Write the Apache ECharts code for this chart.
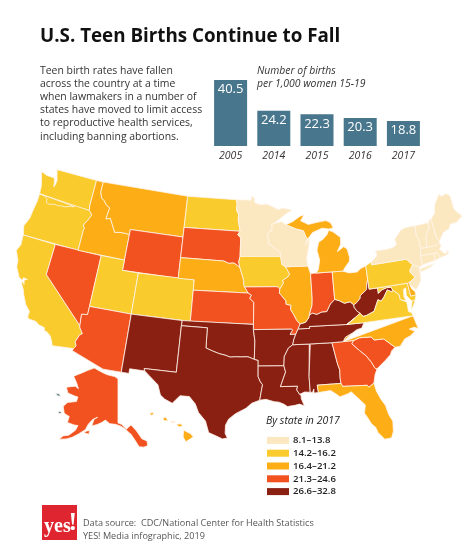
<!DOCTYPE html>
<html>
<head>
<meta charset="utf-8">
<style>html,body{margin:0;padding:0;background:#fff}#main{width:474px;height:557px}</style>
<script src="https://cdn.jsdelivr.net/npm/echarts@6/dist/echarts.min.js"></script>
</head>
<body>
<div id="main"></div>
<script>
// national rate
var years = ['2005', '2014', '2015', '2016', '2017'];
var nationalRates = [40.5, 24.2, 22.3, 20.3, 18.8];

// 2017 rate by state, read as classes from the map
var lightStates = ['Massachusetts', 'New Hampshire', 'Connecticut', 'Vermont', 'New Jersey', 'Rhode Island', 'Minnesota', 'New York', 'Wisconsin', 'Maine'];
var lightRates = [8.1, 9.0, 9.4, 9.4, 11.0, 10.7, 11.5, 12.0, 12.6, 12.6];
var yellowStates = ['Washington', 'Oregon', 'California', 'Utah', 'Colorado', 'North Dakota', 'Iowa', 'Pennsylvania', 'Virginia', 'Maryland'];
var yellowRates = [14.4, 14.5, 15.7, 15.5, 15.7, 15.9, 15.6, 14.5, 14.5, 15.0];
var orangeStates = ['Idaho', 'Montana', 'Nebraska', 'Michigan', 'Illinois', 'Ohio', 'North Carolina', 'Florida', 'Hawaii', 'Delaware'];
var orangeRates = [17.5, 17.7, 17.7, 16.6, 16.7, 20.0, 20.5, 17.9, 17.4, 16.7];
var redStates = ['Nevada', 'Arizona', 'Wyoming', 'South Dakota', 'Kansas', 'Missouri', 'Indiana', 'Georgia', 'South Carolina', 'Alaska'];
var redRates = [22.0, 21.9, 22.0, 21.7, 22.0, 22.8, 21.9, 22.5, 23.3, 21.9];
var darkStates = ['New Mexico', 'Texas', 'Oklahoma', 'Arkansas', 'Louisiana', 'Mississippi', 'Alabama', 'Tennessee', 'Kentucky', 'West Virginia'];
var darkRates = [27.9, 28.7, 30.0, 32.8, 29.9, 30.0, 27.0, 27.0, 28.0, 27.0];

var classLabels = ['8.1–13.8', '14.2–16.2', '16.4–21.2', '21.3–24.6', '26.6–32.8'];
var classMin = [8.1, 14.2, 16.4, 21.3, 26.6];
var classMax = [13.8, 16.2, 21.2, 24.6, 32.8];
var classColors = ['#FCE8C0', '#F9CB2C', '#FDAE17', '#F1521F', '#8A2012'];

function r(a) { return a.slice().reverse(); }

// shared borders, lon/lat
var colorado = [[-114.05,36.2],[-114.74,36.1],[-114.63,35],[-114.57,34.8],[-114.14,34.3],[-114.43,34.1],[-114.72,33.4],[-114.52,33.03],[-114.72,32.72]];
var snake = [[-117.03,42],[-117.03,44],[-116.95,44.2],[-117.2,44.45],[-117.05,44.75],[-116.85,44.95],[-116.47,45.6],[-116.67,45.8],[-116.92,45.99]];
var columbia = [[-116.92,45.99],[-118.98,46],[-119.3,45.93],[-119.6,45.92],[-120.2,45.73],[-120.65,45.74],[-121.2,45.65],[-121.7,45.7],[-122.3,45.55],[-122.76,45.65],[-122.8,46],[-123.2,46.15],[-123.43,46.23],[-123.98,46.25]];
var bitterroot = [[-116.05,49],[-116.05,48],[-115.72,47.42],[-115.3,47.25],[-114.95,46.93],[-114.35,46.65],[-114.45,46.1],[-114.5,45.55],[-113.95,45.7],[-113.45,45.05],[-113,44.45],[-112.3,44.55],[-111.5,44.55],[-111.05,44.48]];
var redNorth = [[-97.23,49],[-97.1,48.6],[-97.15,48],[-96.85,47.6],[-96.85,47],[-96.56,45.94]];
var bigSioux = [[-96.56,45.94],[-96.85,45.6],[-96.45,45.3],[-96.45,43.5]];
var sdIa = [[-96.45,43.5],[-96.6,43],[-96.45,42.49]];
var sdNe = [[-104.05,43],[-98.5,43],[-97.9,42.8],[-97.2,42.85],[-96.7,42.6],[-96.45,42.49]];
var neIa = [[-96.45,42.49],[-96.1,41.7],[-95.9,41.2],[-95.85,40.7],[-95.77,40.58]];
var neMo = [[-95.77,40.58],[-95.31,40]];
var ksMo = [[-95.31,40],[-94.9,39.8],[-95.1,39.5],[-94.61,39.11],[-94.62,37]];
var redSouth = [[-100,34.56],[-99.2,34.3],[-98.5,34.1],[-97.7,33.95],[-97.2,33.8],[-96.6,33.85],[-96,33.85],[-95.2,33.88],[-94.48,33.64]];
var okAr = [[-94.62,36.5],[-94.43,35.4],[-94.48,33.64]];
var txLa = [[-94.04,33],[-94.04,31.99],[-93.8,31.5],[-93.55,31.2],[-93.7,30.5],[-93.85,29.7]];
var mnWi = [[-92.05,46.7],[-92.29,46.66],[-92.29,46.07],[-92.8,45.85],[-92.88,45.6],[-92.75,45],[-92.75,44.75],[-91.9,44.3],[-91.25,43.85],[-91.22,43.5]];
var iaEast = [[-91.22,43.5],[-91.1,42.75],[-90.64,42.51]];
var iaIl = [[-90.64,42.51],[-90.15,41.8],[-90.35,41.55],[-91.05,41.2],[-90.95,40.95],[-91.42,40.38]];
var moIl = [[-91.42,40.38],[-91.5,40],[-90.73,39.25],[-90.7,38.9],[-90.12,38.8],[-90.2,38.4],[-89.85,37.9],[-89.5,37.3],[-89.13,36.98]];
var moKy = [[-89.13,36.98],[-89.4,36.5]];
var moTn = [[-89.4,36.5],[-89.7,36]];
var arTn = [[-89.7,36],[-89.95,35.5],[-90.1,35]];
var arMs = [[-90.1,35],[-90.6,34.7],[-91.1,33.9],[-91.17,33]];
var laMs = [[-91.17,33],[-91,32.4],[-91.6,31],[-89.73,31],[-89.85,30.65],[-89.55,30.2]];
var ilKy = [[-89.13,36.98],[-88.5,37.1],[-88.1,37.5],[-88,37.8]];
var ilIn = [[-87.53,41.72],[-87.53,39.35],[-87.6,38.7],[-88,37.8]];
var inKy = [[-88,37.8],[-87.6,37.95],[-87.1,37.8],[-86.5,38],[-85.9,38],[-85.4,38.7],[-84.82,39.1]];
var ohKy = [[-84.82,39.1],[-84.3,38.95],[-83.7,38.65],[-83,38.73],[-82.6,38.4]];
var ohWv = [[-82.6,38.4],[-82.2,38.6],[-81.75,38.95],[-81.7,39.2],[-80.85,39.7],[-80.65,40.4],[-80.52,40.64]];
var kyWv = [[-82.6,38.4],[-82.6,38.17],[-82.3,37.75],[-81.97,37.54]];
var kyVa = [[-81.97,37.54],[-82.7,37.1],[-83.68,36.6]];
var vaWv = [[-81.97,37.54],[-81.68,37.2],[-81.25,37.25],[-80.3,37.55],[-79.65,38.6],[-79.3,38.42],[-78.9,38.75],[-78.35,39.4],[-77.83,39.14],[-77.72,39.32]];
var mdWv = [[-77.72,39.32],[-77.83,39.6],[-78.4,39.62],[-79.05,39.47],[-79.48,39.2],[-79.48,39.72]];
var ncTn = [[-81.68,36.59],[-82,36.1],[-82.6,36],[-83.1,35.75],[-84,35.4],[-84.32,34.99]];
var ncSc = [[-83.11,35],[-82.4,35.2],[-81.05,35.15],[-80.8,34.82],[-79.68,34.8],[-78.55,33.85]];
var gaSc = [[-83.11,35],[-83.35,34.7],[-82.6,34],[-81.9,33.4],[-81.4,32.7],[-81.1,32.1],[-80.9,32.03]];
var alGa = [[-85.6,34.98],[-85.18,32.87],[-85,32.3],[-85.05,31.55],[-85,31]];
var alMs = [[-88.2,35],[-88.1,34.9],[-88.43,31.9],[-88.4,30.35]];
var flGa = [[-85,31],[-84.86,30.7],[-82.2,30.57],[-82.05,30.36],[-81.45,30.7]];
var paNj = [[-75.35,42],[-74.7,41.36],[-75.13,40.95],[-75.2,40.7],[-74.72,40.15],[-75.42,39.8]];
var vtNy = [[-73.35,45],[-73.45,44],[-73.25,43.6],[-73.27,42.75]];
var vtNh = [[-71.5,45.01],[-71.6,44.5],[-72.05,44.1],[-72.3,43.6],[-72.46,42.73]];
var nhMe = [[-71.08,45.3],[-70.98,43.4],[-70.7,43.07]];
var wiMi = [[-90.42,46.57],[-89.1,46.13],[-88.1,45.9],[-87.85,45.35],[-87.6,45.1]];

// state outlines, lon/lat
var stateRings = {
  'Washington': [[[-124.73,48.38],[-123.9,48.16],[-123.1,48.15],[-122.75,48.12],[-122.6,47.8],[-122.45,47.3],[-122.33,47.6],[-122.3,48],[-122.5,48.4],[-122.76,49],[-117.03,49],[-117.04,46.42]].concat(columbia, [[-124.05,46.7],[-124.1,47],[-124.4,47.7]])],
  'Oregon': [[[-123.98,46.25],[-123.95,45.5],[-124.07,44.6],[-124.15,43.7],[-124.55,42.84],[-124.21,42]].concat(snake, r(columbia).slice(0, -1))],
  'California': [[[-124.21,42],[-120,42],[-120,39]].concat(colorado.slice(2), [[-117.12,32.53],[-117.25,32.85],[-117.6,33.4],[-118.1,33.7],[-118.4,33.75],[-118.5,34.03],[-119.2,34.15],[-119.6,34.4],[-120.47,34.45],[-120.65,34.6],[-120.65,35.15],[-121.3,35.7],[-121.9,36.6],[-122.05,36.95],[-122.5,37.5],[-122.5,37.77],[-122.2,37.5],[-122.35,37.9],[-122,38.05],[-122.5,38.1],[-122.55,37.83],[-123,38],[-123.7,38.9],[-123.8,39.5],[-124.41,40.4],[-124.1,41],[-124.2,41.75]])],
  'Nevada': [[[-120,42],[-114.04,42],[-114.04,36.2]].concat(colorado.slice(0, 3), [[-120,39]])],
  'Idaho': [[[-117.03,49]].concat(bitterroot, [[-111.05,42]], snake, [[-117.04,46.42]])],
  'Montana': [[[-116.05,49],[-104.05,49],[-104.05,45],[-111.05,45]].concat(r(bitterroot))],
  'Wyoming': [[[-111.05,45],[-104.05,45],[-104.05,41],[-111.05,41]]],
  'Utah': [[[-114.04,42],[-111.05,42],[-111.05,41],[-109.05,41],[-109.05,37],[-114.04,37]]],
  'Colorado': [[[-109.05,41],[-102.05,41],[-102.05,37],[-109.05,37]]],
  'Arizona': [[[-114.04,37],[-109.05,37],[-109.05,31.33],[-111.07,31.33],[-114.81,32.5]].concat(r(colorado), [[-114.04,36.2]])],
  'New Mexico': [[[-109.05,37],[-103,37],[-103.04,36.5],[-103.06,32],[-106.62,32],[-106.53,31.78],[-108.2,31.78],[-108.2,31.33],[-109.05,31.33]]],
  'North Dakota': [[[-104.05,49]].concat(redNorth, [[-104.05,45.94]])],
  'South Dakota': [[[-104.05,45.94]].concat(bigSioux, sdIa, r(sdNe))],
  'Nebraska': [sdNe.concat(neIa, neMo, [[-102.05,40],[-102.05,41],[-104.05,41]])],
  'Kansas': [[[-102.05,40]].concat(ksMo, [[-102.05,37]])],
  'Oklahoma': [[[-103,37],[-94.62,37]].concat(okAr, r(redSouth), [[-100,36.5],[-103.04,36.5]])],
  'Texas': [[[-103.04,36.5],[-100,36.5]].concat(redSouth, [[-94.04,33.55]], txLa, [[-94.7,29.4],[-95.3,28.9],[-96.4,28.35],[-97.1,27.8],[-97.4,27.2],[-97.4,26.4],[-97.15,25.96],[-97.65,25.85],[-98.3,26.1],[-99.1,26.4],[-99.5,27.5],[-100.3,28.3],[-100.7,29.1],[-101.4,29.77],[-102.4,29.77],[-102.85,29.3],[-103.15,28.98],[-104,29.3],[-104.5,29.65],[-104.9,30.6],[-106,31.4],[-106.53,31.78],[-106.62,32],[-103.06,32]])],
  'Minnesota': [[[-97.23,49],[-95.15,49],[-95.15,49.38],[-94.8,49.3],[-94.6,48.72],[-93.8,48.55],[-92.95,48.62],[-92,48.3],[-91.4,48.07],[-90.8,48.2],[-89.5,48],[-90.5,47.55],[-91.5,47]].concat(mnWi, [[-96.45,43.5]], r(bigSioux).slice(1), r(redNorth).slice(1))],
  'Iowa': [[[-96.45,43.5]].concat(iaEast, iaIl, [[-91.73,40.61]], r(neIa), r(sdIa).slice(0, -1))],
  'Missouri': [[[-95.77,40.58],[-91.73,40.61]].concat(moIl, moKy, moTn, [[-90.37,36],[-90.07,36.4],[-90.15,36.5],[-94.62,36.5]], r(ksMo))],
  'Arkansas': [[[-94.62,36.5],[-90.15,36.5],[-90.07,36.4],[-90.37,36]].concat(arTn, arMs, [[-94.04,33],[-94.04,33.55]], r(okAr))],
  'Louisiana': [[[-94.04,33]].concat(laMs, [[-89.4,30.05],[-89.4,29.8],[-89.2,29.3],[-89.1,29.05],[-89.6,29.25],[-90.1,29.15],[-90.9,29.05],[-91.3,29.3],[-91.8,29.5],[-92.3,29.55],[-93.2,29.78]], r(txLa).slice(0, -1))],
  'Mississippi': [[[-90.1,35]].concat(alMs, [[-89,30.4]], r(laMs), r(arMs).slice(1))],
  'Alabama': [[[-88.2,35]].concat(alGa, [[-87.6,31],[-87.52,30.28],[-88,30.25],[-88,30.65],[-88.15,30.32]], r(alMs).slice(0, -1))],
  'Georgia': [alGa.concat(flGa.slice(1), [[-81.2,31.5]], r(gaSc))],
  'Florida': [flGa.concat([[-81.3,29.9],[-80.95,29.1],[-80.55,28.4],[-80.35,27.5],[-80.03,26.8],[-80.13,25.8],[-80.4,25.2],[-81.1,25.15],[-81.7,25.9],[-81.85,26.4],[-82.25,26.8],[-82.65,27.6],[-82.85,27.9],[-82.65,28.7],[-83.4,29.5],[-84,30.1],[-84.35,29.95],[-85.3,29.7],[-85.4,29.85],[-86.2,30.4],[-87.52,30.28],[-87.6,31]])],
  'South Carolina': [ncSc.concat([[-79,33.55],[-79.2,33.2],[-79.9,32.7],[-80.5,32.3]], r(gaSc))],
  'North Carolina': [[[-84.32,34.99]].concat(ncSc, [[-77.95,33.87],[-77.3,34.5],[-76.6,34.7],[-76,35.05],[-76.6,35.35],[-76,35.45],[-75.55,35.25],[-75.75,36],[-75.87,36.55]], r(ncTn))],
  'Tennessee': [[[-89.7,36],[-89.4,36.5],[-88.05,36.5],[-88.07,36.68],[-83.68,36.6]].concat(ncTn, [[-85.6,34.98],[-88.2,35]], r(arTn).slice(0, -1))],
  'Kentucky': [[[-89.4,36.5],[-89.13,36.98]].concat(ilKy, inKy, ohKy, kyWv, kyVa, [[-88.07,36.68],[-88.05,36.5]])],
  'Illinois': [[[-90.64,42.51],[-87.8,42.49]].concat(ilIn, r(ilKy), r(moIl), r(iaIl))],
  'Indiana': [[[-87.53,41.72],[-87.2,41.76],[-86.82,41.76],[-84.8,41.76]].concat(r(inKy), r(ilIn))],
  'Ohio': [[[-84.8,41.76],[-83.45,41.73],[-82.7,41.5],[-81.7,41.5],[-81.2,41.78],[-80.52,41.98]].concat(r(ohWv), r(ohKy))],
  'West Virginia': [ohWv.concat([[-80.52,39.72]], r(mdWv), r(vaWv), r(kyWv))],
  'Virginia': [
    [[-83.68,36.6],[-81.68,36.59],[-75.87,36.55],[-76,36.9],[-76.3,37],[-76.3,37.6],[-76.3,37.95],[-77,38.3],[-77.05,38.8]].concat(r(vaWv), r(kyVa).slice(0, -1)),
    [[-75.95,37.15],[-75.65,37.95],[-75.25,38.03],[-75.6,37.5]]
  ],
  'Maryland': [[[-79.48,39.72],[-75.79,39.72],[-75.7,38.46],[-75.05,38.45],[-75.25,38.03],[-75.65,37.95],[-75.9,38.2],[-76.2,38.6],[-76.1,39.3],[-76.4,39.2],[-76.5,38.5],[-76.35,38.05],[-77,38.3],[-77.05,38.8]].concat(mdWv.slice(0, -1))],
  'Delaware': [[[-75.79,39.72],[-75.42,39.8],[-75.55,39.5],[-75.4,39.1],[-75.1,38.8],[-75.05,38.45],[-75.7,38.46]]],
  'Pennsylvania': [[[-80.52,41.98],[-79.76,42.27],[-79.76,42]].concat(paNj, [[-75.79,39.72],[-80.52,39.72]])],
  'New Jersey': [[[-74.7,41.36],[-73.9,41],[-74,40.7],[-74,40.45],[-74.1,39.75],[-74.4,39.4],[-74.9,38.95],[-75.3,39.3],[-75.55,39.6],[-75.42,39.8],[-74.72,40.15],[-75.2,40.7],[-75.13,40.95]]],
  'New York': [
    [[-79.76,42.27],[-79.05,42.7],[-78.9,42.9],[-79.05,43.27],[-77.5,43.27],[-76.7,43.35],[-76.2,43.55],[-76.3,44.1],[-75.3,44.85],[-74.7,45]].concat(vtNy, [[-73.5,42.05],[-73.49,41.2],[-73.73,41.1],[-73.9,41],[-74.7,41.36],[-75.35,42],[-79.76,42]]),
    [[-74.03,40.6],[-73.75,40.85],[-72.6,40.98],[-72,41.1],[-72.6,40.8],[-73.6,40.58]]
  ],
  'Vermont': [[[-73.35,45]].concat(vtNh, r(vtNy).slice(0, -1))],
  'New Hampshire': [[[-71.5,45.01],[-71.3,45.3]].concat(nhMe, [[-70.82,42.87],[-71.3,42.7]], r(vtNh).slice(0, -1))],
  'Maine': [[[-71.08,45.3],[-70.4,45.8],[-70.3,46.2],[-70,46.7],[-69.23,47.46],[-68.9,47.2],[-68.3,47.36],[-67.8,47.07],[-67.8,45.7],[-67.45,45.3],[-67,44.85],[-68,44.4],[-68.8,44.4],[-69.1,44],[-70,43.75]].concat(r(nhMe).slice(0, -1))],
  'Massachusetts': [[[-73.5,42.05],[-73.27,42.75],[-72.46,42.73],[-71.3,42.7],[-70.82,42.87],[-70.6,42.65],[-71,42.3],[-70.65,41.95],[-70.5,41.78],[-70.05,41.8],[-70.2,42.05],[-69.95,41.9],[-70,41.65],[-70.65,41.55],[-71.12,41.5],[-71.38,42.02],[-71.8,42.02]]],
  'Rhode Island': [[[-71.8,42.02],[-71.38,42.02],[-71.12,41.5],[-71.85,41.32]]],
  'Connecticut': [[[-73.5,42.05],[-71.8,42.02],[-71.85,41.32],[-72.9,41.25],[-73.73,41.1],[-73.49,41.2]]],
  'Michigan': [
    [[-86.82,41.76],[-84.8,41.76],[-83.45,41.73],[-83.15,42.05],[-82.5,42.6],[-82.42,43],[-82.6,43.8],[-83,44.07],[-83.9,43.65],[-83.35,44.35],[-83.3,45],[-84.2,45.6],[-84.75,45.78],[-85,45.4],[-85.55,45],[-86.2,44.7],[-86.5,43.95],[-86.25,43],[-86.5,42.1]],
    [[-89.5,46.85],[-88.45,47.35],[-87.9,47.45],[-88.4,46.9],[-87.4,46.5],[-86.2,46.65],[-85,46.75],[-84.4,46.5],[-84.1,46],[-84.7,45.9],[-85.6,46.05],[-86.3,45.85],[-86.9,45.7]].concat(r(wiMi))
  ],
  'Wisconsin': [[[-92.05,46.7],[-91,46.9]].concat(wiMi, [[-88,44.55],[-87.35,45.2],[-87.55,44.3],[-87.9,43.2],[-87.8,42.49]], r(iaEast), r(mnWi).slice(1))],
  'Alaska': [
    [[-141,69.65],[-141,60.3],[-139.5,60],[-137.5,58.95],[-136.5,59.4],[-135.5,59.75],[-133.5,58.4],[-131.8,56.6],[-130,56],[-130,55],[-131.5,54.8],[-133.2,55],[-134.5,56.5],[-135.8,57.8],[-136.6,58.2],[-138,59],[-139.8,59.6],[-142,60],[-144.5,60.1],[-146.5,60.8],[-148,60.2],[-149.7,59.7],[-151.9,59.2],[-151.4,60.7],[-150,61.2],[-152,60.6],[-153.5,59.4],[-154.2,58.2],[-156.5,57],[-158.5,56],[-160.5,55.3],[-162.9,54.8],[-162,55.7],[-160,56.2],[-158,57.6],[-157.5,58.7],[-159,58.6],[-162,58.7],[-162,60],[-164.5,60.3],[-166,61.6],[-164.8,62.7],[-161,63.5],[-161,64.5],[-163,64.5],[-166.3,64.6],[-168.1,65.6],[-164,66.5],[-162,66.2],[-163.8,67.2],[-166.8,68.35],[-163,69.6],[-160,70.5],[-156.5,71.35],[-152,70.85],[-148,70.4],[-143,70.1]],
    [[-154.5,57.5],[-152.5,57.4],[-152.5,58.2],[-153.8,57.9]]
  ],
  'Hawaii': [
    [[-155.9,20.25],[-155.1,19.85],[-154.8,19.5],[-155.65,18.95],[-155.95,19.5]],
    [[-156.7,20.9],[-156.25,20.95],[-156,20.75],[-156.4,20.6]],
    [[-158.25,21.55],[-157.97,21.7],[-157.65,21.3],[-158.1,21.3]],
    [[-159.75,22.1],[-159.4,22.23],[-159.3,22],[-159.6,21.9]],
    [[-157.3,21.2],[-156.75,21.17],[-156.75,21.08],[-157.3,21.1]]
  ],
  // the two islands off Alaska are teal in the picture, so they carry no value
  'St. Lawrence Island': [[[-171.7,63.4],[-170,63.7],[-168.8,63.3],[-170.3,63.2]]],
  'Nunivak Island': [[[-167.2,60.2],[-166,60.4],[-165.7,60],[-166.6,59.85]]]
};

var rad = Math.PI / 180;
var coneN = (Math.sin(29.5 * rad) + Math.sin(45.5 * rad)) / 2;
var coneC = Math.pow(Math.cos(29.5 * rad), 2) + 2 * coneN * Math.sin(29.5 * rad);
var scaleX = 616.5, scaleY = 591, mapX = 263, mapY = -451, midLon = -93.5;

// albers for the lower 48, plus insets for Alaska and Hawaii
function projectUS(p) {
  var lon = p[0], lat = p[1];
  if (lon < -129 && lat > 50) {
    var t = 0.866 * (lon + 141) * rad, rr = (93 - lat) * 4.73;
    return [118 + rr * Math.sin(t), 268.3 + rr * Math.cos(t)];
  }
  if (lon < -129) {
    return [188 + (lon + 155.4) * 8.8, 436 - (lat - 19.6) * 9];
  }
  var rho = Math.sqrt(coneC - 2 * coneN * Math.sin(lat * rad)) / coneN;
  var th = coneN * (lon - midLon) * rad;
  return [mapX + scaleX * rho * Math.sin(th), mapY + scaleY * rho * Math.cos(th)];
}
function unprojectUS(p) {
  var x = (p[0] - mapX) / scaleX, y = (p[1] - mapY) / scaleY;
  var rho = Math.sqrt(x * x + y * y), th = Math.atan2(x, y);
  return [midLon + th / coneN / rad, Math.asin((coneC - rho * rho * coneN * coneN) / (2 * coneN)) / rad];
}

var features = [], box = [Infinity, Infinity, -Infinity, -Infinity];
Object.keys(stateRings).forEach(function (name) {
  var rings = stateRings[name].map(function (ring) {
    ring.forEach(function (pt) {
      var q = projectUS(pt);
      box = [Math.min(box[0], q[0]), Math.min(box[1], q[1]), Math.max(box[2], q[0]), Math.max(box[3], q[1])];
    });
    return [ring.concat([ring[0]])];
  });
  features.push({type: 'Feature', properties: {name: name}, geometry: {type: 'MultiPolygon', coordinates: rings}});
});
echarts.registerMap('USA', {type: 'FeatureCollection', features: features});

var stateData = [];
[[lightStates, lightRates], [yellowStates, yellowRates], [orangeStates, orangeRates], [redStates, redRates], [darkStates, darkRates]].forEach(function (g) {
  g[0].forEach(function (name, i) { stateData.push({name: name, value: g[1][i]}); });
});

var FONT = '"Open Sans", sans-serif';
var myChart = echarts.init(document.getElementById('main'));
var option = {
  animation: false,
  backgroundColor: '#fff',
  title: [
    {text: 'U.S. Teen Births Continue to Fall', left: 40, top: 27.5, padding: 0, textStyle: {color: '#111', fontFamily: FONT, fontSize: 18.8, fontWeight: 'bold'}},
    {text: 'Teen birth rates have fallen\nacross the country at a time\nwhen lawmakers in a number of\nstates have moved to limit access\nto reproductive health services,\nincluding banning abortions.', left: 40, top: 64, padding: 0, textStyle: {color: '#333', fontFamily: FONT, fontSize: 10.45, fontWeight: 'normal', lineHeight: 13.2}},
    {text: 'Number of births\nper 1,000 women 15-19', left: 257, top: 64, padding: 0, textStyle: {color: '#333', fontFamily: FONT, fontSize: 10.4, fontStyle: 'italic', fontWeight: 'normal', lineHeight: 13.2}},
    {text: 'By state in 2017', left: 266, top: 416, padding: 0, textStyle: {color: '#222', fontFamily: FONT, fontSize: 10.5, fontStyle: 'italic', fontWeight: 'normal'}},
    {text: 'Data source:  CDC/National Center for Health Statistics\nYES! Media infographic, 2019', left: 83, top: 517, padding: 0, textStyle: {color: '#555', fontFamily: FONT, fontSize: 9.1, fontWeight: 'normal', lineHeight: 13}}
  ],
  grid: {left: 209, top: 80, width: 216, height: 66},
  xAxis: {
    type: 'category', data: years,
    axisLine: {show: false}, axisTick: {show: false},
    axisLabel: {margin: 5, color: '#333', fontFamily: FONT, fontSize: 10.5, fontStyle: 'italic'}
  },
  yAxis: {type: 'value', min: 5.5, max: 40.5, show: false},
  visualMap: {
    type: 'piecewise', seriesIndex: 1, left: 267, top: 434, padding: 0, orient: 'vertical', align: 'left', inverse: true,
    itemWidth: 22, itemHeight: 7, itemGap: 0, itemSymbol: 'rect', showLabel: true, selectedMode: false, hoverLink: false,
    textGap: 4, textStyle: {color: '#222', fontFamily: FONT, fontSize: 9.6, fontWeight: 600, lineHeight: 12.8},
    pieces: classLabels.map(function (label, i) {
      return {min: classMin[i], max: classMax[i], label: label, color: classColors[i]};
    })
  },
  series: [
    {
      type: 'bar', data: nationalRates, barWidth: 33, silent: true,
      itemStyle: {color: '#47768D'},
      label: {show: true, position: 'insideTop', distance: 3, color: '#fff', fontFamily: FONT, fontSize: 13}
    },
    {
      type: 'map', map: 'USA', data: stateData, roam: false, silent: true,
      projection: {project: projectUS, unproject: unprojectUS},
      layoutCenter: [(box[0] + box[2]) / 2, (box[1] + box[3]) / 2],
      layoutSize: box[2] - box[0],
      label: {show: false},
      itemStyle: {areaColor: '#47768D', borderColor: '#FFF4EA', borderWidth: 0.8},
      emphasis: {disabled: true}
    }
  ],
  graphic: [
    {type: 'rect', left: 42, top: 505, shape: {width: 35, height: 35}, style: {fill: '#DF2530'}},
    {type: 'text', left: 44, top: 517, style: {text: 'yes', fill: '#fff', font: 'bold 20px "Liberation Serif", serif'}},
    {type: 'text', left: 68.5, top: 510, style: {text: '!', fill: '#fff', font: 'bold 26px "Liberation Serif", serif'}}
  ]
};
myChart.setOption(option);
</script>
</body>
</html>
